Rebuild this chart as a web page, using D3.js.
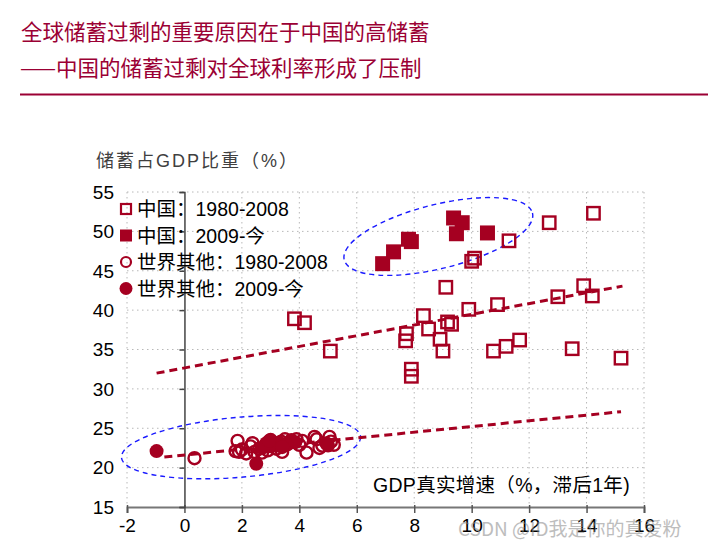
<!DOCTYPE html>
<html>
<head>
<meta charset="utf-8">
<script src="https://cdn.jsdelivr.net/npm/d3@7"></script>
<style>
  body { margin: 0; background: #fff; }
  svg { display: block; font-family: "Liberation Sans", Arial, "Noto Sans CJK SC", sans-serif; }
  .cjk { font-family: "Noto Sans CJK SC", sans-serif; }
  .mix { font-family: "Liberation Sans", Arial, "Noto Sans CJK SC", sans-serif; }
</style>
</head>
<body>
<div id="chart"></div>
<script>
var svgWidth = 708;
var svgHeight = 551;

// China 1980-2008 (open squares): [GDP growth lagged, savings % GDP]
var china1980 = [
  [12.7, 51.1], [14.24, 52.3], [11.3, 48.8], [10.1, 46.6], [10.0, 46.2],
  [9.1, 42.9], [8.32, 39.3], [9.9, 40.1], [10.9, 40.7], [13.0, 41.7],
  [13.9, 43.1], [14.2, 41.8], [9.16, 38.5], [9.3, 38.2], [8.5, 37.6],
  [7.73, 37.0], [7.7, 36.1], [8.9, 36.3], [9.0, 34.8], [10.76, 34.8],
  [11.2, 35.4], [11.67, 36.2], [13.5, 35.1], [15.2, 33.9], [5.08, 34.8],
  [7.9, 32.5], [7.9, 31.6], [3.83, 38.9], [4.18, 38.4]
];
// China 2009- (filled squares)
var china2009 = [
  [6.9, 45.9], [7.28, 47.4], [7.8, 49.0], [7.9, 48.7],
  [9.37, 51.7], [9.67, 51.1], [9.47, 49.7], [10.55, 49.8]
];
// Rest of world 1980-2008 (open circles)
var world1980 = [
  [0.35, 21.2], [1.85, 23.4], [1.78, 22.1], [2.15, 21.8], [2.37, 23.1],
  [2.44, 22.0], [2.0, 22.3], [2.6, 22.4], [3.37, 23.3], [3.4, 22.0],
  [3.6, 23.0], [4.0, 22.9], [4.25, 21.9], [4.53, 23.9], [4.6, 23.6],
  [4.7, 22.5], [5.05, 23.9], [5.2, 22.9], [5.1, 23.3], [3.2, 22.4],
  [2.9, 22.2], [3.9, 23.6], [4.1, 23.4], [2.3, 22.7], [1.9, 22.0],
  [3.5, 23.6], [2.7, 21.9], [4.8, 22.8], [3.0, 23.5]
];
// Rest of world 2009- (filled circles)
var world2009 = [
  [-0.97, 22.1], [2.5, 20.5], [2.85, 23.1], [3.0, 22.7], [3.1, 23.0],
  [3.3, 23.2], [3.72, 23.5], [3.85, 23.2], [2.7, 22.5], [4.94, 23.1],
  [5.0, 22.8], [3.55, 22.9], [2.95, 23.4], [3.4, 22.6]
];

// dashed trend lines (start / end in data units)
var trendChina = [[-0.97, 32.0], [15.25, 43.05]];
var trendWorld = [[-0.7, 21.35], [15.2, 27.1]];

var xTicks = [-2, 0, 2, 4, 6, 8, 10, 12, 14, 16];
var yTicks = [15, 20, 25, 30, 35, 40, 45, 50, 55];

var legendLabels = ["中国：1980-2008", "中国：2009-今", "世界其他：1980-2008", "世界其他：2009-今"];

var red = "#A50021";

var svg = d3.select("#chart")
  .append("svg")
  .attr("width", svgWidth)
  .attr("height", svgHeight);

// title
var title = svg.append("g").attr("class", "cjk").attr("fill", "#9B0034").style("font-size", "21.5px");
title.append("text").attr("x", 21).attr("y", 40).text("全球储蓄过剩的重要原因在于中国的高储蓄");
title.append("text").attr("x", 20).attr("y", 76).text("——中国的储蓄过剩对全球利率形成了压制");
svg.append("line")
  .attr("x1", 20).attr("x2", 708)
  .attr("y1", 94.5).attr("y2", 94.5)
  .attr("stroke", "#9B0034").attr("stroke-width", 2.2);

// scales
var x = d3.scaleLinear().domain([-2, 16]).range([127, 644]);
var y = d3.scaleLinear().domain([15, 55]).range([507, 192]);

// grid
var grid = svg.append("g").attr("stroke", "#b8b8b8").attr("stroke-width", 1).attr("stroke-dasharray", "1.5,3.5");
grid.selectAll(".hg").data(yTicks.slice(1)).enter().append("line")
  .attr("x1", x(-2)).attr("x2", x(16))
  .attr("y1", d => y(d)).attr("y2", d => y(d));
grid.selectAll(".vg").data(xTicks.filter(d => d !== 0)).enter().append("line")
  .attr("x1", d => x(d)).attr("x2", d => x(d))
  .attr("y1", y(55)).attr("y2", y(15));

// x axis
var xAxis = svg.append("g")
  .attr("transform", `translate(0, ${y(15)})`)
  .call(d3.axisBottom(x).tickValues(xTicks).tickSize(6).tickPadding(6).tickFormat(d => String(d)));
xAxis.select(".domain").attr("stroke", "#777").attr("stroke-width", 2);
xAxis.selectAll(".tick line").attr("stroke", "#555").attr("stroke-width", 1.5).attr("y1", -2);
xAxis.selectAll(".tick text").attr("fill", "#000").style("font-size", "19px").style("font-family", "Liberation Sans, Arial, sans-serif");

// y axis line at x = 0 and labels at left edge
var yAxis = svg.append("g")
  .attr("transform", `translate(${x(0)}, 0)`)
  .call(d3.axisLeft(y).tickValues(yTicks).tickSize(5).tickFormat(""));
yAxis.select(".domain").attr("stroke", "#444").attr("stroke-width", 1.5);
yAxis.selectAll(".tick line").attr("stroke", "#444").attr("stroke-width", 1.5);

svg.append("g").selectAll("text")
  .data(yTicks)
  .enter()
  .append("text")
  .attr("x", 114)
  .attr("y", d => y(d))
  .attr("dy", "0.36em")
  .attr("text-anchor", "end")
  .style("font-size", "19px")
  .attr("fill", "#000")
  .text(d => d);

// axis titles
svg.append("text").attr("class", "mix")
  .attr("x", 96).attr("y", 167)
  .attr("fill", "#404040")
  .style("font-size", "18px")
  .style("letter-spacing", "2px")
  .text("储蓄占GDP比重（%）");
svg.append("text").attr("class", "mix")
  .attr("x", 373).attr("y", 492)
  .attr("fill", "#000")
  .style("font-size", "19.5px")
  .style("letter-spacing", "0.3px")
  .text("GDP真实增速（%，滞后1年)");

// ellipses
function ellipse(cx, cy, rx, ry, angle) {
  svg.append("ellipse")
    .attr("transform", `translate(${x(cx)}, ${y(cy)}) rotate(${angle})`)
    .attr("rx", rx).attr("ry", ry)
    .attr("fill", "none")
    .attr("stroke", "#1a1aff")
    .attr("stroke-width", 1.4)
    .attr("stroke-dasharray", "5,4");
}
ellipse(8.84, 49.35, 97, 32, -14);
ellipse(1.97, 22.6, 120, 30, -5);

// trend lines
var line = d3.line().x(d => x(d[0])).y(d => y(d[1]));
[trendChina, trendWorld].forEach(function(t) {
  svg.append("path")
    .attr("d", line(t))
    .attr("fill", "none")
    .attr("stroke", red)
    .attr("stroke-width", 3)
    .attr("stroke-dasharray", "8,5");
});

// points
var pts = svg.append("g");
pts.selectAll(".c80").data(world1980).enter().append("circle")
  .attr("cx", d => x(d[0])).attr("cy", d => y(d[1]))
  .attr("r", 6).attr("fill", "none")
  .attr("stroke", red).attr("stroke-width", 2.4);
pts.selectAll(".c09").data(world2009).enter().append("circle")
  .attr("cx", d => x(d[0])).attr("cy", d => y(d[1]))
  .attr("r", 7).attr("fill", red);
pts.selectAll(".s80").data(china1980).enter().append("rect")
  .attr("x", d => x(d[0]) - 6.2).attr("y", d => y(d[1]) - 6.2)
  .attr("width", 12.4).attr("height", 12.4)
  .attr("fill", "none").attr("stroke", red).attr("stroke-width", 2.4);
pts.selectAll(".s09").data(china2009).enter().append("rect")
  .attr("x", d => x(d[0]) - 7.5).attr("y", d => y(d[1]) - 7.5)
  .attr("width", 15).attr("height", 15)
  .attr("fill", red);

// legend
var legend = svg.append("g").attr("transform", "translate(126, 209)");
legendLabels.forEach(function(lbl, i) {
  var g = legend.append("g").attr("transform", `translate(0, ${i * 26.5})`);
  if (i === 0) g.append("rect").attr("x", -5).attr("y", -5).attr("width", 10).attr("height", 10)
    .attr("fill", "none").attr("stroke", red).attr("stroke-width", 2.2);
  if (i === 1) g.append("rect").attr("x", -6).attr("y", -6).attr("width", 12).attr("height", 12).attr("fill", red);
  if (i === 2) g.append("circle").attr("r", 5).attr("fill", "none").attr("stroke", red).attr("stroke-width", 2.2);
  if (i === 3) g.append("circle").attr("r", 6.5).attr("fill", red);
  g.append("text").attr("class", "mix")
    .attr("x", 11).attr("dy", "0.36em")
    .style("font-size", "19.5px")
    .attr("fill", "#000")
    .text(lbl);
});

// watermark
svg.append("text").attr("class", "cjk")
  .attr("x", 458).attr("y", 536)
  .attr("fill", "#888").attr("opacity", 0.55)
  .style("font-size", "19px")
  .text("CSDN @ID我是你的真爱粉");
</script>
</body>
</html>
